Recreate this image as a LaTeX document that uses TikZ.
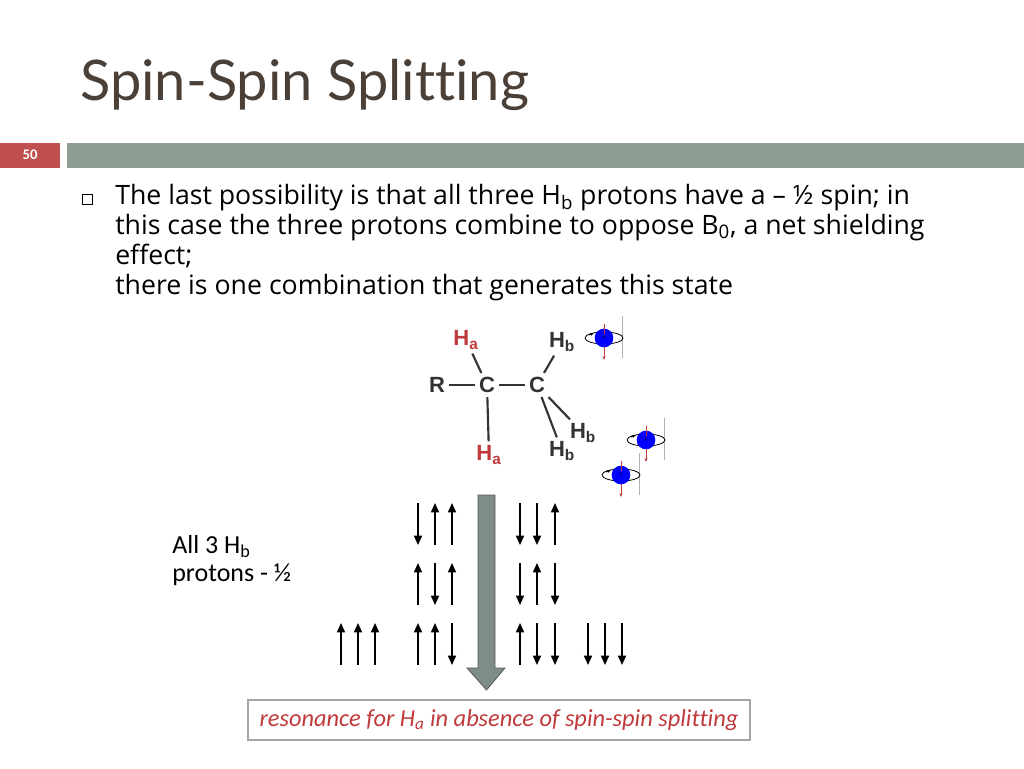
\documentclass[tikz,border=0pt]{standalone}
\usepackage{fontspec}
\setmainfont[Ligatures=NoCommon]{Carlito}
\newfontfamily\titlefont[Ligatures=NoCommon]{Lato}
\newfontfamily\bodyfont[Ligatures=NoCommon]{Open Sans}
\newfontfamily\molfont{Liberation Sans}
\usetikzlibrary{arrows.meta}
\definecolor{barred}{HTML}{C0504D}
\definecolor{bargray}{HTML}{8C9D94}
\definecolor{titlec}{HTML}{4A4038}
\definecolor{hared}{HTML}{C0393B}
\definecolor{molg}{HTML}{333333}
\tikzset{
 spin/.style={-{Triangle[length=7pt,width=6pt]},line width=1.2pt},
 body/.style={anchor=north west,font=\bodyfont\fontsize{20}{22.5}\selectfont,align=left,inner sep=0},
 mol/.style={font=\molfont\bfseries\fontsize{16.5}{16.5}\selectfont,text=molg,inner sep=3pt},
 hr/.style={mol,text=hared},
 bond/.style={line width=1.6pt,molg},
 ball/.style={circle,fill=blue,minimum size=14pt,inner sep=0}
}
\begin{document}
\begin{tikzpicture}[x=0.75pt,y=-0.75pt]
\useasboundingbox (0,0) rectangle (1024,768);
\node[anchor=west,text=titlec,font=\titlefont\fontsize{42}{42}\selectfont,inner sep=0] (title) at (80,85) {Spin-Spin Splitting};
\fill[barred] (0,143) rectangle (60,168);
\node[text=white,font=\bfseries\fontsize{11}{11}\selectfont] (num) at (30,155) {50};
\fill[bargray] (67,143) rectangle (1024,168);
\draw[line width=0.7pt] (82,194) rectangle (92,204);
\node[body] (txt) at (115,184) {The last possibility is that all three H\textsubscript{b} protons have a – ½ spin; in\\this case the three protons combine to oppose B\textsubscript{0}, a net shielding\\effect;\\there is one combination that generates this state};
% molecule
\node[hr] (ha1) at (466,340) {H\textsubscript{a}};
\node[mol] (hb1) at (562,342) {H\textsubscript{b}};
\node[mol] (r) at (437,385) {R};
\node[mol] (c1) at (487,385) {C};
\node[mol] (c2) at (537,385) {C};
\node[mol] (hb2) at (583,433) {H\textsubscript{b}};
\node[mol] (hb3) at (562,451) {H\textsubscript{b}};
\node[hr] (ha2) at (489,455) {H\textsubscript{a}};
\draw[bond] (r) -- (c1); \draw[bond] (c1) -- (c2);
\draw[bond] (c1) -- (ha1); \draw[bond] (c1) -- (ha2);
\draw[bond] (c2) -- (hb1); \draw[bond] (c2) -- (hb2); \draw[bond] (c2) -- (hb3);
\foreach \n/\x/\y in {s1/604/338,s2/646/440,s3/621/475}{
 \draw[gray!60,line width=0.4pt] (\x+18,\y-22) -- (\x+18,\y+20);
 \draw[hared,-{Stealth[length=3pt]},line width=0.5pt] (\x,\y+6) -- (\x,\y+22);
 \draw[line width=0.6pt] (\x,\y) ellipse (19 and 6);
 \node[ball] (\n) at (\x,\y) {};
 \draw[hared,line width=0.5pt] (\x,\y-14) -- (\x,\y-4);
 \draw[-{Stealth[length=3pt]},line width=0.6pt] (\x-15,\y-3) -- (\x-10,\y-5);
 \node[font=\fontsize{5}{5}\selectfont,inner sep=0] at (\x,\y) {+};
}
% left label
\node[anchor=north west,font=\fontsize{19.5}{21}\selectfont,align=left,inner sep=0] (lab) at (172,535) {All 3 H\textsubscript{b}\\protons - ½};
% big arrow
\fill[bargray!90!black,draw=gray!70!black,line width=0.6pt] (478,495) -- (495,495) -- (495,668) -- (505,668) -- (486.5,690) -- (467,668) -- (478,668) -- cycle;
% spin arrows
\foreach \x/\r/\d in {418/1/d,435/1/u,452/1/u,520/1/d,537/1/d,555/1/u,
 418/2/u,435/2/d,452/2/u,520/2/d,537/2/u,555/2/d,
 341/3/u,358/3/u,375/3/u,418/3/u,435/3/u,452/3/d,520/3/u,537/3/d,555/3/d,588/3/d,605/3/d,622/3/d}{
 \pgfmathsetmacro\yt{443+60*\r}
 \pgfmathsetmacro\yb{485+60*\r}
 \if\d u \draw[spin] (\x,\yb) -- (\x,\yt); \else \draw[spin] (\x,\yt) -- (\x,\yb); \fi
}
\node[draw=gray!70,line width=0.8pt,minimum width=376.5pt,minimum height=30pt,text=hared,font=\itshape\fontsize{18.3}{18.3}\selectfont] (res) at (499,720) {resonance for H\textsubscript{a} in absence of spin-spin splitting};
\end{tikzpicture}
\end{document}
